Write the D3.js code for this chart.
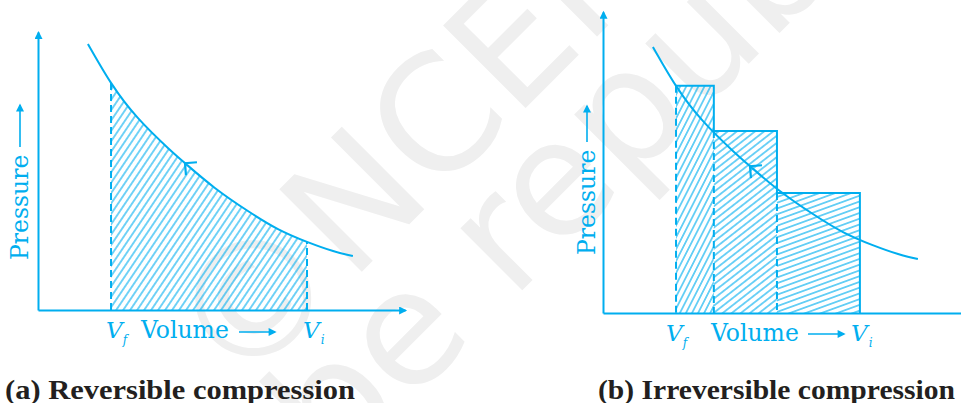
<!doctype html>
<html lang="en">
<head>
<meta charset="utf-8">
<title>Reversible and irreversible compression</title>
<script src="https://d3js.org/d3.v7.min.js"></script>
<style>
  body { margin: 0; background: #fff; }
  svg { display: block; }
</style>
</head>
<body>
<svg id="chart" width="961" height="403"></svg>
<script>
// isotherm (volume, pressure in arbitrary units)
var curveVolume   = [1.36, 1.99, 2.72, 3.54, 4.06, 4.82, 5.72, 6.54, 7.33, 8.04, 8.58];
var curvePressure = [9.57, 8.17, 6.91, 5.83, 5.22, 4.39, 3.56, 2.91, 2.45, 2.12, 1.94];

// reversible: area between Vf and Vi
var revVf = 1.99, revVi = 7.33;

// irreversible: stepwise compression
var stepVolume   = [1.99, 3.02, 4.74, 7.00];
var stepPressure = [8.17, 6.55, 4.32];

var captions = ["(a) Reversible compression", "(b) Irreversible compression"];

var blue = "#00aeef";
var svg = d3.select("#chart");
var defs = svg.append("defs");

var curvePts = curveVolume.map(function(v, i) { return [v, curvePressure[i]]; });

// hatch patterns: angle from horizontal, gap between lines
function hatch(id, angle, gap) {
  var p = defs.append("pattern")
      .attr("id", id)
      .attr("patternUnits", "userSpaceOnUse")
      .attr("width", gap).attr("height", gap)
      .attr("patternTransform", "rotate(" + (90 - angle) + ")");
  p.append("line")
      .attr("x1", gap / 2).attr("y1", -1)
      .attr("x2", gap / 2).attr("y2", gap + 1)
      .attr("stroke", blue).attr("stroke-width", 1.1);
}
hatch("hRev", 56, 5.8);
var stepHatch = [[63, 5.4], [38, 5.6], [20, 5.4]];
stepHatch.forEach(function(h, i) { hatch("hStep" + i, h[0], h[1]); });

var mk = defs.append("marker")
    .attr("id", "head")
    .attr("viewBox", "0 0 10 10")
    .attr("refX", 8).attr("refY", 5)
    .attr("markerUnits", "userSpaceOnUse")
    .attr("markerWidth", 9).attr("markerHeight", 8)
    .attr("orient", "auto");
mk.append("path").attr("d", "M0,0L10,5L0,10z").attr("fill", blue);

// faint watermark
var wm = svg.append("g")
    .attr("fill", "#efefef")
    .attr("font-family", "DejaVu Sans")
    .attr("font-size", 160);
var w1 = wm.append("text").text("©NCERT")
    .attr("dominant-baseline", "central")
    .attr("transform", "translate(255,300) rotate(-45)");
w1.attr("x", -w1.node().getSubStringLength(0, 1) / 2);
var w2 = wm.append("text").text("not to be republished")
    .attr("dominant-baseline", "central")
    .attr("transform", "translate(402,332) rotate(-45)");
w2.attr("x", -(w2.node().getSubStringLength(0, 8) + w2.node().getSubStringLength(8, 1) / 2));

function panel(cfg) {
  var g = svg.append("g");
  var x = d3.scaleLinear().domain([0, 10]).range([cfg.x0, cfg.x0 + 367]);
  var y = d3.scaleLinear().domain([0, cfg.yMax]).range([cfg.y0, cfg.y0 - 27.8 * cfg.yMax]);

  var line = d3.line().x(function(d) { return x(d[0]); }).y(function(d) { return y(d[1]); })
      .curve(d3.curveNatural);

  cfg.fill(g, x, y, line);

  g.append("path")
      .datum(curvePts)
      .attr("d", line)
      .attr("fill", "none")
      .attr("stroke", blue)
      .attr("stroke-width", 2);

  // chevron on the curve pointing towards smaller volume
  var a = curvePts[3], b = curvePts[5], m = curvePts[4];
  var dx = x(b[0]) - x(a[0]), dy = y(b[1]) - y(a[1]);
  var len = Math.sqrt(dx * dx + dy * dy);
  dx /= len; dy /= len;
  var tx = x(m[0]) - 2, ty = y(m[1]) - 2 * dy / dx;
  var arms = [Math.PI / 4, -Math.PI / 4].map(function(t) {
    return [tx + 12 * (dx * Math.cos(t) - dy * Math.sin(t)),
            ty + 12 * (dx * Math.sin(t) + dy * Math.cos(t))];
  });
  g.append("path")
      .attr("d", "M" + arms[0] + "L" + tx + "," + ty + "L" + arms[1])
      .attr("fill", "none").attr("stroke", blue).attr("stroke-width", 2.2);

  // axes
  var ax = g.append("g").attr("transform", "translate(0," + cfg.y0 + ")")
      .call(d3.axisBottom(x).tickValues([]).tickSizeOuter(0));
  var ay = g.append("g").attr("transform", "translate(" + cfg.x0 + ",0)")
      .call(d3.axisLeft(y).tickValues([]).tickSizeOuter(0));
  [ax, ay].forEach(function(s) {
    s.select(".domain").attr("stroke", blue).attr("stroke-width", 2).attr("marker-end", "url(#head)");
  });

  // labels
  var txt = g.append("g").attr("fill", blue).attr("font-family", "DejaVu Serif");
  txt.append("text").attr("x", cfg.volX).attr("y", cfg.base).attr("font-size", 23.5).text("Volume");
  txt.append("line")
      .attr("x1", cfg.volArrow[0]).attr("x2", cfg.volArrow[1])
      .attr("y1", cfg.volArrowY).attr("y2", cfg.volArrowY)
      .attr("stroke", blue).attr("stroke-width", 1.6).attr("marker-end", "url(#head)");
  [["f", cfg.vfX], ["i", cfg.viX]].forEach(function(l) {
    var t = txt.append("text").attr("x", l[1]).attr("y", cfg.base)
        .attr("font-style", "italic").attr("font-size", 23).text("V");
    t.append("tspan").attr("font-size", 12).attr("dx", l[0] == "f" ? 0 : 1).attr("dy", 6).text(l[0]);
  });
  txt.append("text")
      .attr("transform", "translate(" + cfg.pX + "," + cfg.pY + ") rotate(-90)")
      .attr("font-size", 23.5).text("Pressure");
  txt.append("line")
      .attr("x1", cfg.pX - 8).attr("x2", cfg.pX - 8)
      .attr("y1", cfg.pY - 113).attr("y2", cfg.pArrowTop)
      .attr("stroke", blue).attr("stroke-width", 1.6).attr("marker-end", "url(#head)");

  svg.append("text")
      .attr("x", cfg.capX).attr("y", 399)
      .attr("font-family", "Liberation Serif").attr("font-weight", "bold")
      .attr("font-size", 27).attr("fill", "#231f20")
      .attr("textLength", cfg.capW).attr("lengthAdjust", "spacingAndGlyphs")
      .text(cfg.caption);
}

// (a) reversible
panel({
  x0: 38, y0: 310, yMax: 10,
  volX: 141, base: 338, volArrow: [239, 275], volArrowY: 332,
  vfX: 106, viX: 303, pX: 28, pY: 260, pArrowTop: 105,
  capX: 5, capW: 350, caption: captions[0],
  fill: function(g, x, y, line) {
    var cp = defs.append("clipPath").attr("id", "revClip");
    cp.append("rect").attr("x", x(revVf)).attr("y", 0)
        .attr("width", x(revVi) - x(revVf)).attr("height", y(0));
    var area = d3.area().x(function(d) { return x(d[0]); })
        .y0(y(0)).y1(function(d) { return y(d[1]); })
        .curve(d3.curveNatural);
    g.append("path").datum(curvePts).attr("d", area)
        .attr("fill", "url(#hRev)").attr("clip-path", "url(#revClip)");
    // dashed bounds, from the curve down to the axis
    var probe = g.append("path").datum(curvePts).attr("d", line).attr("fill", "none").node();
    function yAt(px) {
      var L = probe.getTotalLength(), a = 0, b = L;
      for (var k = 0; k < 40; k++) {
        var mid = (a + b) / 2;
        if (probe.getPointAtLength(mid).x < px) a = mid; else b = mid;
      }
      return probe.getPointAtLength(a).y;
    }
    [revVf, revVi].forEach(function(v) {
      g.append("line")
          .attr("x1", x(v)).attr("x2", x(v))
          .attr("y1", y(0)).attr("y2", yAt(x(v)))
          .attr("stroke", blue).attr("stroke-width", 2)
          .attr("stroke-dasharray", "7,4");
    });
    d3.select(probe).remove();
  }
});

// (b) irreversible
panel({
  x0: 603, y0: 313, yMax: 10.83,
  volX: 711, base: 341, volArrow: [808, 844], volArrowY: 334,
  vfX: 666, viX: 851, pX: 595, pY: 255, pArrowTop: 106,
  capX: 598, capW: 357, caption: captions[1],
  fill: function(g, x, y) {
    stepPressure.forEach(function(p, i) {
      var xa = x(stepVolume[i]), xb = x(stepVolume[i + 1]);
      g.append("rect")
          .attr("x", xa).attr("y", y(p))
          .attr("width", xb - xa).attr("height", y(0) - y(p))
          .attr("fill", "url(#hStep" + i + ")");
      // solid top and right edges
      var next = i + 1 < stepPressure.length ? y(stepPressure[i + 1]) : y(0);
      g.append("path")
          .attr("d", "M" + xa + "," + y(p) + "H" + xb + "V" + next)
          .attr("fill", "none").attr("stroke", blue).attr("stroke-width", 2);
      // dashed left edge
      g.append("line")
          .attr("x1", xa).attr("x2", xa).attr("y1", y(p)).attr("y2", y(0))
          .attr("stroke", blue).attr("stroke-width", 2)
          .attr("stroke-dasharray", "7,4");
    });
  }
});
</script>
</body>
</html>
